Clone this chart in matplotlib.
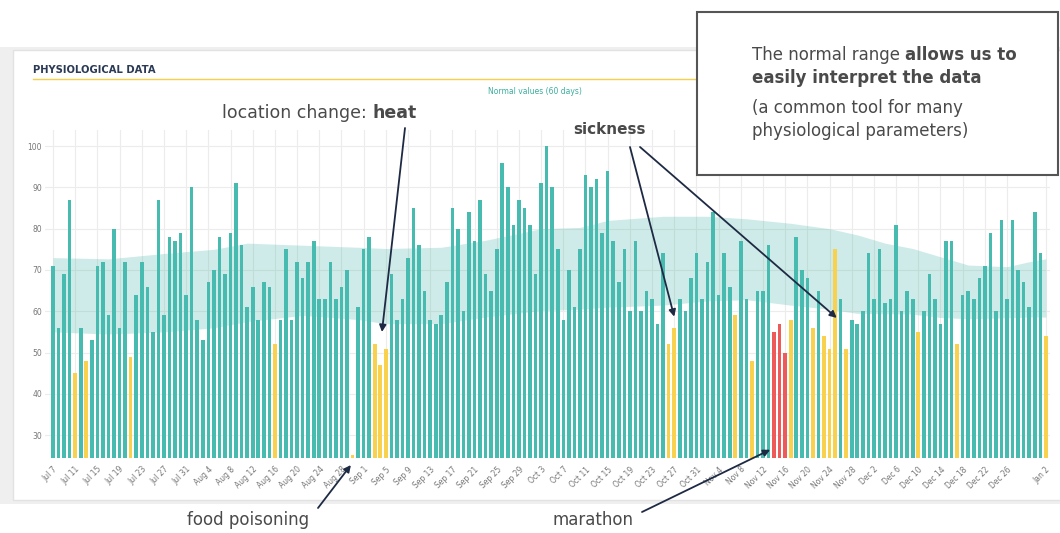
import matplotlib.pyplot as plt
import matplotlib.patches as patches
from matplotlib.lines import Line2D
from matplotlib.text import Annotation
import pandas as pd

# daily values, Jul 7 -> Jan 2
values = [71, 56, 69, 87, 45, 56, 48, 53, 71, 72,
          59, 80, 56, 72, 49, 64, 72, 66, 55, 87,
          59, 78, 77, 79, 64, 90, 58, 53, 67, 70,
          78, 69, 79, 91, 76, 61, 66, 58, 67, 66,
          52, 58, 75, 58, 72, 68, 72, 77, 63, 63,
          72, 63, 66, 70, 25.3, 61, 75, 78, 52, 47,
          51, 69, 58, 63, 73, 85, 76, 65, 58, 57,
          59, 67, 85, 80, 60, 84, 77, 87, 69, 65,
          75, 96, 90, 81, 87, 85, 81, 69, 91, 100,
          90, 75, 58, 70, 61, 75, 93, 90, 92, 79,
          94, 77, 67, 75, 60, 77, 60, 65, 63, 57,
          74, 52, 56, 63, 60, 68, 74, 63, 72, 84,
          64, 74, 66, 59, 77, 63, 48, 65, 65, 76,
          55, 57, 50, 58, 78, 70, 68, 56, 65, 54,
          51, 75, 63, 51, 58, 57, 60, 74, 63, 75,
          62, 63, 81, 60, 65, 63, 55, 60, 69, 63,
          57, 77, 77, 52, 64, 65, 63, 68, 71, 79,
          60, 82, 63, 82, 70, 67, 61, 84, 74, 54]

# days (index) flagged below normal / far below normal
low_days = [4, 6, 14, 40, 54, 58, 59, 60, 111, 112, 123, 126, 133,
            137, 139, 140, 141, 143, 156, 163, 179]
very_low_days = [130, 131, 132]

# normal range (60 days) band
band_days = [0, 10, 20, 29, 35, 45, 55, 60, 70, 78, 88, 95, 100, 110,
             118, 125, 133, 140, 145, 150, 155, 160, 165, 172, 176, 179]
band_low = [55, 54.5, 55, 56, 57.5, 59, 58, 57, 57, 58.6, 60.2, 60.5, 61,
            61.5, 62.5, 62.8, 61.5, 60.5, 59.5, 59.4, 59.3, 58.5, 58.2,
            58.4, 58.6, 58.6]
band_high = [73, 72.7, 74, 75, 76.5, 76, 75.5, 75.2, 75.5, 77.2, 80, 80.3,
             82, 83, 83, 82.4, 81.3, 80, 78.5, 76.5, 75.2, 73.2, 71.2, 70.8,
             72, 72.7]

dates = pd.date_range("2018-07-07", periods=len(values))
tick_days = list(range(0, 173, 4)) + [179]
tick_labels = [f"{dates[d].strftime('%b')} {dates[d].day}" for d in tick_days]

teal = "#48bbb0"
yellow = "#f8d24e"
red = "#ee5a5a"
navy = "#1e2a44"
grey_txt = "#4a4a4a"

colors = []
for i in range(len(values)):
    if i in very_low_days:
        colors.append(red)
    elif i in low_days:
        colors.append(yellow)
    else:
        colors.append(teal)

W, H = 1060, 533
fig = plt.figure(figsize=(W / 100, H / 100), dpi=100)
fig.patch.set_facecolor("white")

def fx(x):
    return x / W

def fy(y):
    return 1 - y / H

# card background
fig.add_artist(patches.Rectangle((0, fy(504)), 1, (504 - 47) / H, transform=fig.transFigure,
                                 facecolor="#efefef", edgecolor="none", zorder=-3))
fig.add_artist(patches.Rectangle((fx(13), fy(500)), 1, (500 - 50) / H, transform=fig.transFigure,
                                 facecolor="white", edgecolor="#e2e2e2", lw=1, zorder=-2))

ax = fig.add_axes([fx(44.7), fy(458), fx(1050.3) - fx(44.7), fy(129.5) - fy(458)])
ax.set_facecolor("none")

ax.fill_between(band_days, band_low, band_high, color="#3fb3a8", alpha=0.25, lw=0, zorder=1)
ax.bar(range(len(values)), [v - 24.5 for v in values], bottom=24.5, width=0.65,
       color=colors, linewidth=0, zorder=2)

ax.set_xlim(-1.5, 179.8)
ax.set_ylim(24.5, 104)
ax.set_yticks(range(30, 101, 10))
ax.set_xticks(tick_days)
ax.set_xticklabels(tick_labels, rotation=45, ha="right", rotation_mode="anchor")
ax.tick_params(length=0, labelsize=5.5, colors="#777777", pad=2)
ax.tick_params(axis="x", pad=5)
ax.grid(True, color="#ececec", lw=0.8, zorder=0)
ax.set_axisbelow(True)
for s in ax.spines.values():
    s.set_visible(False)

# header
fig.text(fx(33), fy(70), "PHYSIOLOGICAL DATA", fontsize=7.2, fontweight="bold",
         color="#2b3a55", va="center", ha="left")
fig.add_artist(Line2D([fx(33), fx(1040)], [fy(79), fy(79)], transform=fig.transFigure,
                      color="#f5d04c", lw=1, zorder=-1))
fig.text(fx(535), fy(92), "Normal values (60 days)", fontsize=5.5, color="#3aaea0",
         ha="center", va="center")

# info box
fig.add_artist(patches.Rectangle((fx(697), fy(175)), fx(1058) - fx(697), (175 - 12) / H,
                                 transform=fig.transFigure, facecolor="white",
                                 edgecolor="#555555", lw=1.5, zorder=5))
t = fig.text(fx(752), fy(55), "The normal range ", fontsize=12, color=grey_txt,
             va="center", zorder=6)
fig.add_artist(Annotation("allows us to", xy=(1, 0), xycoords=t, va="bottom", ha="left",
                          fontsize=12, fontweight="bold", color=grey_txt, zorder=6))
fig.text(fx(752), fy(78), "easily interpret the data", fontsize=12, fontweight="bold",
         color=grey_txt, va="center", zorder=6)
fig.text(fx(752), fy(108), "(a common tool for many", fontsize=12, color=grey_txt,
         va="center", zorder=6)
fig.text(fx(752), fy(131), "physiological parameters)", fontsize=12, color=grey_txt,
         va="center", zorder=6)

# annotations
t2 = fig.text(fx(222), fy(113), "location change: ", fontsize=12.5, color=grey_txt, va="center")
fig.add_artist(Annotation("heat", xy=(1, 0), xycoords=t2, va="bottom", ha="left",
                          fontsize=12.5, fontweight="bold", color=grey_txt))
fig.text(fx(573), fy(130), "sickness", fontsize=11, fontweight="bold", color=grey_txt, va="center")
fig.text(fx(187), fy(520), "food poisoning", fontsize=12, color=grey_txt, va="center")
fig.text(fx(553), fy(520), "marathon", fontsize=12, color=grey_txt, va="center")

arrows = [((59.3, 55.0), (405, 128)),
          ((112.0, 58.7), (630, 147)),
          ((141.3, 58.4), (640, 147)),
          ((53.7, 22.8), (318, 508)),
          ((129.3, 26.5), (642, 512))]
for xy, (px, py) in arrows:
    ax.annotate("", xy=xy, xycoords="data", xytext=(px, H - py), textcoords="figure pixels",
                arrowprops=dict(arrowstyle="-|>", color=navy, lw=1.3, mutation_scale=10,
                                shrinkA=0, shrinkB=0),
                annotation_clip=False, zorder=7)

plt.savefig("out.png", dpi=100)
